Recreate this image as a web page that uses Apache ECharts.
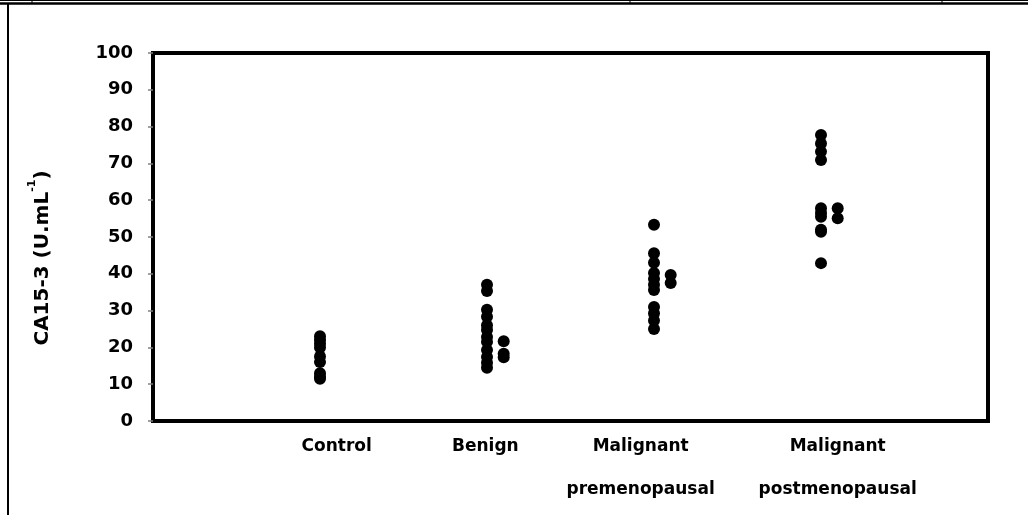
<!DOCTYPE html>
<html>
<head>
<meta charset="utf-8">
<script src="https://cdn.jsdelivr.net/npm/echarts@6/dist/echarts.min.js"></script>
<style>html,body{margin:0;padding:0;background:#fff;}#c{width:1028px;height:515px;}</style>
</head>
<body>
<div id="c"></div>
<script>
// ---- data ----
var categories = ['Control', 'Benign', 'Malignant\npremenopausal', 'Malignant\npostmenopausal'];
var controlMain = [23, 22, 21, 20, 17.5, 16, 13, 12, 11.5];
var controlSide = [];
var benignMain = [37, 35.3, 30.2, 28.3, 26, 24.7, 22.8, 21.5, 19.3, 17.4, 15.8, 14.5];
var benignSide = [21.7, 18.3, 17.3];
var preMain = [53.3, 45.6, 43, 40.2, 38.6, 37, 35.6, 31, 29.3, 27.3, 25];
var preSide = [39.7, 37.5];
var postMain = [77.7, 75.4, 73.2, 70.9, 57.8, 56.5, 55.5, 52, 51.4, 42.9];
var postSide = [57.8, 55.1];
var yTicks = [0, 10, 20, 30, 40, 50, 60, 70, 80, 90, 100];
var yTitle = ['CA15-3 (U.mL', '-1', ')'];

var groups = [
  {main: controlMain, side: controlSide},
  {main: benignMain, side: benignSide},
  {main: preMain, side: preSide},
  {main: postMain, side: postSide}
];
var sideOffset = 0.1;
var labelPos = [1.10, 1.99, 2.92, 4.10];

var series = [];
groups.forEach(function (g, i) {
  var x = i + 1;
  series.push({
    type: 'scatter', symbolSize: 12, itemStyle: {color: '#000', opacity: 1},
    data: g.main.map(function (v) { return [x, v]; })
  });
  if (g.side.length) series.push({
    type: 'scatter', symbolSize: 12, itemStyle: {color: '#000', opacity: 1},
    data: g.side.map(function (v) { return [x + sideOffset, v]; })
  });
});

var chart = echarts.init(document.getElementById('c'), null, {renderer: 'canvas'});
chart.setOption({
  animation: false,
  backgroundColor: '#fff',
  grid: {left: 153, right: 40, top: 53, bottom: 94, show: true, borderColor: '#000', borderWidth: 4, backgroundColor: 'transparent'},
  xAxis: {
    type: 'value', min: 0, max: 5,
    axisLine: {show: true, lineStyle: {color: '#000', width: 4}},
    axisTick: {show: false},
    splitLine: {show: false},
    axisLabel: {
      customValues: labelPos,
      formatter: function (val) {
        for (var i = 0; i < labelPos.length; i++) if (Math.abs(labelPos[i] - val) < 1e-6) return categories[i];
        return '';
      },
      margin: 4, lineHeight: 43,
      fontFamily: 'DejaVu Sans', fontWeight: 'bold', fontSize: 17, color: '#000'
    }
  },
  yAxis: {
    type: 'value', min: 0, max: 100, interval: 10,
    axisLine: {show: true, lineStyle: {color: '#000', width: 4}},
    axisTick: {show: true, length: 5, lineStyle: {color: '#808080', width: 1.5}},
    splitLine: {show: false},
    axisLabel: {
      margin: 20, fontFamily: 'DejaVu Sans', fontWeight: 'bold', fontSize: 18, color: '#000',
      formatter: function (v) { return yTicks.indexOf(v) >= 0 ? String(v) : ''; }
    }
  },
  graphic: [
    {type: 'line', shape: {x1: 0, y1: 0.5, x2: 1028, y2: 0.5}, style: {stroke: '#000', lineWidth: 1}},
    {type: 'line', shape: {x1: 0, y1: 3.5, x2: 1028, y2: 3.5}, style: {stroke: '#000', lineWidth: 2.5}},
    {type: 'line', shape: {x1: 32, y1: 0, x2: 32, y2: 3}, style: {stroke: '#000', lineWidth: 1}},
    {type: 'line', shape: {x1: 630, y1: 0, x2: 630, y2: 3}, style: {stroke: '#000', lineWidth: 1}},
    {type: 'line', shape: {x1: 942, y1: 0, x2: 942, y2: 3}, style: {stroke: '#000', lineWidth: 1}},
    {type: 'line', shape: {x1: 8, y1: 4, x2: 8, y2: 515}, style: {stroke: '#000', lineWidth: 2}},
    {
      type: 'text', x: 40, y: 258, rotation: Math.PI / 2,
      style: {
        text: '{a|' + yTitle[0] + '}{s|' + yTitle[1] + '}{a|' + yTitle[2] + '}',
        align: 'center', verticalAlign: 'middle',
        rich: {
          a: {fontFamily: 'DejaVu Sans', fontWeight: 'bold', fontSize: 20, fill: '#000', lineHeight: 26, verticalAlign: 'bottom'},
          s: {fontFamily: 'DejaVu Sans', fontWeight: 'bold', fontSize: 11, fill: '#000', lineHeight: 26, verticalAlign: 'top'}
        }
      }
    }
  ],
  series: series
});
</script>
</body>
</html>
